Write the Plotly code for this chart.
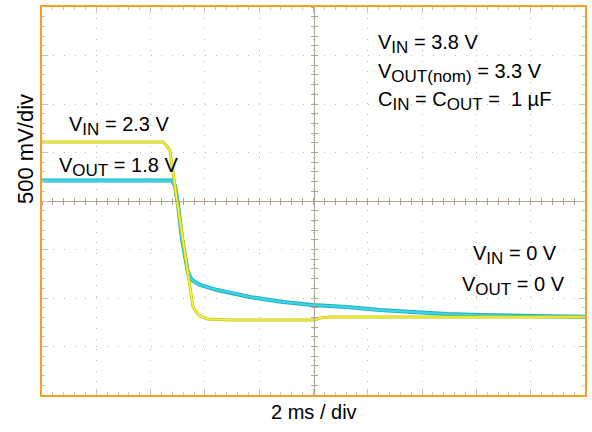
import plotly.graph_objects as go

# time in ms (2 ms/div, 0 at screen centre), voltage in V (500 mV/div, 0 at centre line)
vin_t = [-10, -5.54, -5.43, -5.29, -5.03, -4.81, -4.66, -4.44, -4.29, -4.18, -3.92,
         -3.08, 0.0, 0.24, 0.61, 10]
vin_v = [0.608, 0.608, 0.577, 0.526, 0.01, -0.40, -0.68, -1.09, -1.155, -1.186, -1.216,
         -1.227, -1.227, -1.206, -1.196, -1.196]

vout_t = [-10, -5.21, -5.10, -4.99, -4.84, -4.73, -4.62, -4.48, -4.18, -3.55, -2.97,
          -2.34, -1.12, -0.02, 1.23, 2.45, 3.67, 4.92, 6.13, 7.35, 8.60, 10]
vout_v = [0.211, 0.211, 0.155, -0.04, -0.40, -0.588, -0.742, -0.814, -0.866, -0.918, -0.948,
          -0.990, -1.041, -1.072, -1.093, -1.124, -1.144, -1.165, -1.175, -1.186, -1.189, -1.193]

W, H = 592, 432
L, R, T, B = 42, 585, 7, 395
FONT = "Liberation Sans, Arial, Helvetica, sans-serif"
ORANGE = "#f5a020"
GRID = "#b8b8b8"
CROSS = "#ada592"


def px(x):
    return (x - L) / (R - L)


def py(y):
    return (B - y) / (B - T)


def sub(s):
    return f"<sub><span style='font-size:17px'>{s}</span></sub>"


fig = go.Figure()

# VOUT (cyan) - darker edge then brighter core
fig.add_trace(go.Scatter(x=vout_t, y=vout_v, mode="lines",
                         line=dict(color="#1fb0c0", width=4), hoverinfo="skip"))
fig.add_trace(go.Scatter(x=vout_t, y=vout_v, mode="lines",
                         line=dict(color="#3ed6e6", width=2.2), name="VOUT"))
# VIN (yellow)
fig.add_trace(go.Scatter(x=vin_t, y=vin_v, mode="lines",
                         line=dict(color="#c2c210", width=3), hoverinfo="skip"))
fig.add_trace(go.Scatter(x=vin_t, y=vin_v, mode="lines",
                         line=dict(color="#f4f43a", width=1.6), name="VIN"))

# empty traces to carry the centre crosshair axes
fig.add_trace(go.Scatter(x=[None], y=[None], xaxis="x2", yaxis="y2", hoverinfo="skip"))
fig.add_trace(go.Scatter(x=[None], y=[None], xaxis="x3", yaxis="y3", hoverinfo="skip"))

frame = dict(showline=True, linecolor=ORANGE, linewidth=2, mirror="allticks",
             showgrid=True, gridcolor=GRID, gridwidth=1, zeroline=False,
             ticks="inside", ticklen=6, tickcolor="#c8c0b0", tickwidth=1,
             showticklabels=False)

cross = dict(showline=True, linecolor=CROSS, linewidth=1, showgrid=False, zeroline=False,
             ticklen=3, tickcolor=CROSS, tickwidth=1, showticklabels=False,
             anchor="free", position=0.5)

fig.update_layout(
    width=W, height=H,
    margin=dict(l=L, r=W - R, t=T, b=H - B, autoexpand=False),
    paper_bgcolor="white", plot_bgcolor="white",
    showlegend=False,
    font=dict(family=FONT, size=20, color="black"),
    xaxis=dict(range=[-10, 10], dtick=2, griddash="1px,9.7px",
               minor=dict(dtick=0.4, ticks="inside", ticklen=3, tickcolor="#c8c0b0", showgrid=False),
               **frame),
    yaxis=dict(range=[-2, 2], dtick=0.5, griddash="1px,9.86px",
               minor=dict(dtick=0.1, ticks="inside", ticklen=3, tickcolor="#c8c0b0", showgrid=False),
               **frame),
    xaxis2=dict(overlaying="x", matches="x", ticks="outside", dtick=2,
                minor=dict(dtick=0.4, ticks="outside", ticklen=3, tickcolor=CROSS), **cross),
    yaxis2=dict(overlaying="y", matches="y", ticks="outside", dtick=0.5,
                minor=dict(dtick=0.1, ticks="outside", ticklen=3, tickcolor=CROSS), **cross),
    xaxis3=dict(overlaying="x", matches="x", ticks="inside", dtick=2,
                minor=dict(dtick=0.4, ticks="inside", ticklen=3, tickcolor=CROSS), **cross),
    yaxis3=dict(overlaying="y", matches="y", ticks="inside", dtick=0.5,
                minor=dict(dtick=0.1, ticks="inside", ticklen=3, tickcolor=CROSS), **cross),
)

labels = [
    (f"V{sub('IN')} = 2.3 V", 67, 126),
    (f"V{sub('OUT')} = 1.8 V", 57, 167),
    (f"V{sub('IN')} = 3.8 V", 376, 44),
    (f"V{sub('OUT(nom)')} = 3.3 V", 376, 73),
    (f"C{sub('IN')} = C{sub('OUT')} =\u00a0\u00a01 \u00b5F", 376, 101),
    (f"V{sub('IN')} = 0 V", 471, 255),
    (f"V{sub('OUT')} = 0 V", 460, 286),
]
for text, x, y in labels:
    fig.add_annotation(text=text, xref="paper", yref="paper", x=px(x), y=py(y),
                       xanchor="left", yanchor="middle", showarrow=False)

fig.add_annotation(text="2 ms / div", xref="paper", yref="paper", x=px(314), y=py(412),
                   xanchor="center", yanchor="middle", showarrow=False)
fig.add_annotation(text="500 mV/div", xref="paper", yref="paper", x=px(25), y=py(149),
                   xanchor="center", yanchor="middle", textangle=-90, showarrow=False,
                   font=dict(size=22))

# drop the browser's default page margin so the figure sits at the window origin
fig.write_html("out.html", config={"displayModeBar": False},
               post_script="document.body.style.margin='0px';")
